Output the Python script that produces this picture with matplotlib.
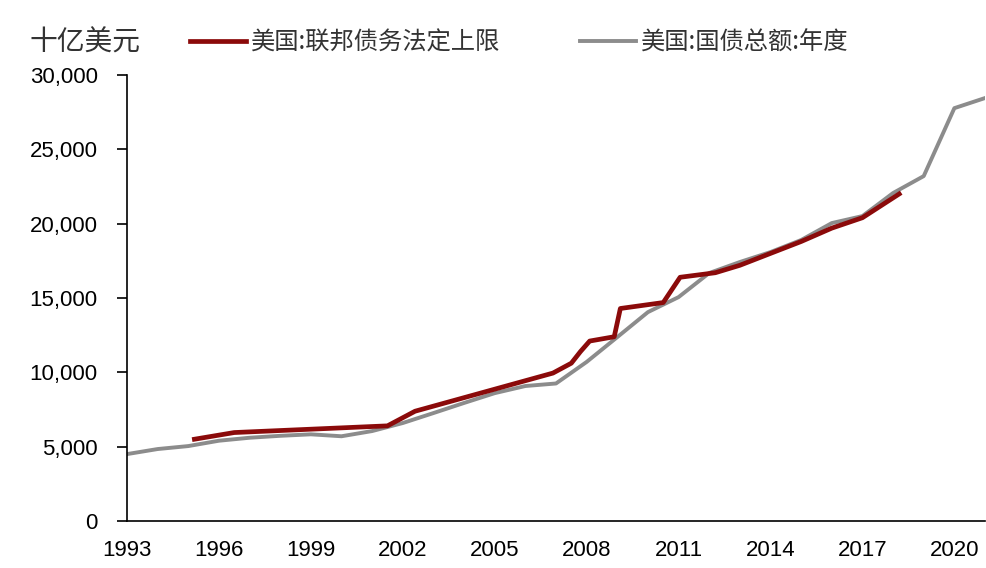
import matplotlib.pyplot as plt
from matplotlib.ticker import FuncFormatter

# 美国:国债总额:年度 (十亿美元)
debt_years = [1993, 1994, 1995, 1996, 1997, 1998, 1999, 2000, 2001, 2002, 2003,
              2004, 2005, 2006, 2007, 2008, 2009, 2010, 2011, 2012, 2013, 2014,
              2015, 2016, 2017, 2018, 2019, 2020, 2021]
debt_total = [4500, 4840, 5040, 5400, 5600, 5730, 5830, 5700, 6050, 6590, 7260,
              7940, 8600, 9080, 9250, 10700, 12370, 14050, 15060, 16680, 17420, 18090,
              18900, 20040, 20510, 22060, 23200, 27770, 28450]

# 美国:联邦债务法定上限 (十亿美元)
limit_years = [1995.2, 1996.5, 2001.5, 2002.4, 2006.9, 2007.5, 2007.8, 2008.1,
               2008.9, 2009.1, 2010.5, 2011.05, 2012.2, 2013.0, 2014.0, 2015.0,
               2016.0, 2017.0, 2018.2]
debt_limit = [5500, 5950, 6400, 7384, 9950, 10615, 11400, 12104,
              12394, 14294, 14694, 16394, 16700, 17200, 18000, 18800,
              19700, 20400, 22000]

x_ticks = list(range(1993, 2021, 3))
y_ticks = list(range(0, 30001, 5000))

cjk = ['Noto Sans CJK SC', 'DejaVu Sans']
num_font = 'Liberation Sans'

fig = plt.figure(figsize=(9.87, 5.68), dpi=100)
ax = fig.add_axes([127 / 987, 47 / 568, 858 / 987, 446 / 568])

ax.plot(limit_years, debt_limit, color='#8b0a0a', lw=3.4, solid_joinstyle='round',
        label='美国:联邦债务法定上限', zorder=3)
ax.plot(debt_years, debt_total, color='#8c8c8c', lw=2.8, solid_joinstyle='round',
        label='美国:国债总额:年度', zorder=2)

ax.set_xlim(1993, 2021)
ax.set_ylim(0, 30000)
ax.set_xticks(x_ticks)
ax.set_yticks(y_ticks)
ax.yaxis.set_major_formatter(FuncFormatter(lambda v, p: f'{v:,.0f}'))

for s in ['top', 'right']:
    ax.spines[s].set_visible(False)
for s in ['left', 'bottom']:
    ax.spines[s].set_linewidth(1.2)
ax.tick_params(axis='y', direction='out', length=7, width=1.2, pad=14)
ax.tick_params(axis='x', length=0, pad=14)
for lab in ax.get_xticklabels() + ax.get_yticklabels():
    lab.set_fontfamily(num_font)
    lab.set_fontsize(16)

fig.text(30 / 987, 1 - 43 / 568, '十亿美元', family=cjk, fontsize=20,
         va='center', ha='left', color='#333333')

leg = ax.legend(loc='center left', bbox_to_anchor=(190 / 987, 1 - 43 / 568),
                bbox_transform=fig.transFigure, ncol=2, frameon=False,
                borderpad=0, borderaxespad=0, handlelength=2.3, handletextpad=0.2,
                columnspacing=3.3, prop={'family': cjk, 'size': 17.5})
for t in leg.get_texts():
    t.set_color('#333333')

fig.savefig('out.png', dpi=100)
